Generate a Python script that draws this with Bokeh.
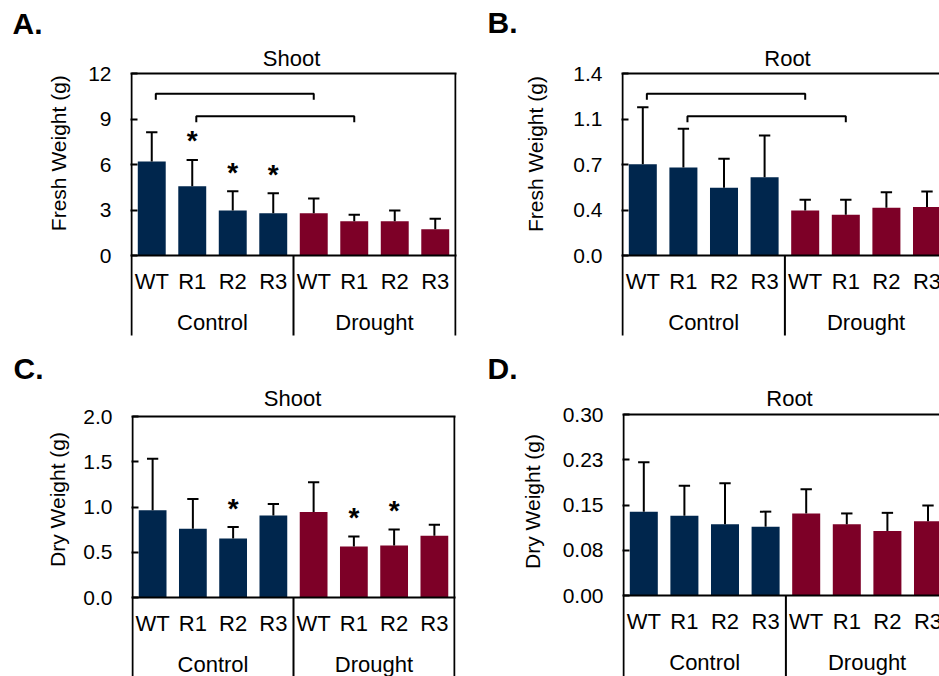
import numpy as np
from bokeh.plotting import figure
from bokeh.models import Range1d, FixedTicker
from bokeh.layouts import column, row
from bokeh.embed import file_html
from bokeh.resources import INLINE
from bokeh.core.properties import value

# ---------------- data ----------------
genotypes = ["WT", "R1", "R2", "R3"]
conditions = ["Control", "Drought"]
bar_colors = ["#00264d", "#7d0027"]

# A: shoot fresh weight
a_mean = [6.20, 4.57, 2.97, 2.79, 2.79, 2.26, 2.26, 1.73]
a_err = [1.93, 1.73, 1.27, 1.31, 0.97, 0.42, 0.71, 0.69]
a_sig = [False, True, True, True, False, False, False, False]
a_ticks = [0, 3, 6, 9, 12]
a_tick_labels = ["0", "3", "6", "9", "12"]
a_brackets = [(0, 4, 10.66), (1, 5, 9.18)]

# B: root fresh weight
b_mean = [0.702, 0.677, 0.521, 0.602, 0.346, 0.313, 0.367, 0.374]
b_err = [0.438, 0.298, 0.223, 0.321, 0.082, 0.115, 0.120, 0.118]
b_sig = [False] * 8
b_ticks = [0, 0.35, 0.7, 1.05, 1.4]
b_tick_labels = ["0.0", "0.4", "0.7", "1.1", "1.4"]
b_brackets = [(0, 4, 1.244), (1, 5, 1.072)]

# C: shoot dry weight
c_mean = [0.963, 0.759, 0.652, 0.907, 0.944, 0.563, 0.574, 0.681]
c_err = [0.570, 0.330, 0.126, 0.126, 0.330, 0.111, 0.178, 0.123]
c_sig = [False, False, True, False, False, True, True, False]
c_ticks = [0, 0.5, 1.0, 1.5, 2.0]
c_tick_labels = ["0.0", "0.5", "1.0", "1.5", "2.0"]
c_brackets = []

# D: root dry weight
d_mean = [0.139, 0.132, 0.118, 0.114, 0.136, 0.118, 0.107, 0.123]
d_err = [0.082, 0.050, 0.068, 0.025, 0.040, 0.018, 0.030, 0.026]
d_sig = [False] * 8
d_ticks = [0, 0.075, 0.15, 0.225, 0.3]
d_tick_labels = ["0.00", "0.08", "0.15", "0.23", "0.30"]
d_brackets = []

FONT = "Liberation Sans"
LW = 80  # width of the side strip holding the panel letter and y title


def base_fig(**kw):
    p = figure(output_backend="svg", toolbar_location=None, tools="", **kw)
    p.grid.visible = False
    p.outline_line_color = None
    p.background_fill_color = "white"
    p.border_fill_color = "white"
    return p


def panel(mean, err, sig, ticks, tick_labels, brackets, ylabel, title, letter,
          fig_w, fig_h, left, right, top, zero, bottom, cat_w,
          ylab_pos, title_pos, letter_pos):
    ymax = ticks[-1]
    k = (zero - top) / ymax  # px per data unit

    def X(px):
        return -0.5 + (px - left) / cat_w

    def Y(px):
        return (zero - px) / k

    # ---- side strip: panel letter + y-axis title ----
    pl = base_fig(width=LW, height=fig_h, x_range=Range1d(0, LW), y_range=Range1d(fig_h, 0),
                  x_axis_location=None, y_axis_location=None, min_border=0)
    pl.text(x=[letter_pos[0]], y=[letter_pos[1]], text=[letter], text_align="left",
            text_baseline="middle", text_font=value(FONT), text_font_style="bold",
            text_font_size="30px", text_color="black")
    pl.text(x=[ylab_pos[0]], y=[ylab_pos[1]], text=[ylabel], angle=np.pi / 2,
            text_align="center", text_baseline="middle", text_font=value(FONT),
            text_font_size="21px", text_color="black")

    # ---- main chart ----
    frame_right = min(right + 1, fig_w)
    x_range = Range1d(X(left - 1), X(frame_right))
    y_range = Range1d(Y(bottom), Y(0))
    p = base_fig(width=fig_w - LW, height=fig_h, x_range=x_range, y_range=y_range,
                 x_axis_location=None, min_border_left=left - 1 - LW,
                 min_border_right=fig_w - frame_right,
                 min_border_top=0, min_border_bottom=fig_h - bottom)

    ax = p.yaxis[0]
    ax.ticker = FixedTicker(ticks=ticks)
    ax.major_label_overrides = {t: l for t, l in zip(ticks, tick_labels)}
    ax.minor_tick_line_color = None
    ax.major_tick_in = 7
    ax.major_tick_out = 0
    ax.major_tick_line_width = 2
    ax.major_tick_line_color = "black"
    ax.axis_line_color = None
    ax.major_label_text_font = FONT
    ax.major_label_text_font_size = "21px"
    ax.major_label_text_color = "black"
    ax.major_label_standoff = 19

    n = len(mean)
    xs = np.arange(n)
    mean_a = np.array(mean)
    tops = mean_a + np.array(err)
    colors = [bar_colors[i // len(genotypes)] for i in range(n)]

    p.vbar(x=xs, top=mean_a, bottom=0, width=0.69, fill_color=colors, line_color=None)
    # error bars (upper only)
    p.segment(x0=xs, y0=mean_a, x1=xs, y1=tops, line_color="black", line_width=2)
    p.segment(x0=xs - 0.14, y0=tops, x1=xs + 0.14, y1=tops, line_color="black", line_width=2)

    # frame / divider lines
    xl, xr = -0.5, n - 0.5
    xdiv = len(genotypes) - 0.5
    ybot = Y(bottom + 2)
    xend = X(frame_right + 5)
    p.segment(x0=[xl, xl, xl, xr, xdiv], y0=[ymax, 0, ybot, ybot, ybot],
              x1=[xend, xend, xl, xr, xdiv], y1=[ymax, 0, ymax, ymax, 0],
              line_color="black", line_width=2)

    # significance brackets
    drop = 6 / k
    bx, by = [], []
    for i, j, h in brackets:
        bx.append([i + 0.1, i + 0.1, j, j])
        by.append([h - drop, h, h, h - drop])
    if bx:
        p.multi_line(xs=bx, ys=by, line_color="black", line_width=2)

    # significance asterisks
    sx = [xs[i] for i in range(n) if sig[i]]
    sy = [tops[i] + 19 / k for i in range(n) if sig[i]]
    if sx:
        p.text(x=sx, y=sy, text=["*"] * len(sx), text_align="center",
               text_baseline="middle", text_font=value(FONT),
               text_font_style="bold", text_font_size="28px", text_color="black")

    # category labels
    p.text(x=xs, y=[Y(zero + 26)] * n, text=genotypes * len(conditions),
           text_align="center", text_baseline="middle", text_font=value(FONT),
           text_font_size="22px", text_color="black")
    gx = [len(genotypes) * g + (len(genotypes) - 1) / 2 for g in range(len(conditions))]
    p.text(x=gx, y=[Y(zero + 67)] * len(gx), text=conditions,
           text_align="center", text_baseline="middle", text_font=value(FONT),
           text_font_size="22px", text_color="black")

    # panel title
    p.text(x=[X(title_pos[0])], y=[Y(title_pos[1])], text=[title],
           text_align="center", text_baseline="middle", text_font=value(FONT),
           text_font_size="22px", text_color="black")
    return row(pl, p)


pA = panel(a_mean, a_err, a_sig, a_ticks, a_tick_labels, a_brackets,
           "Fresh Weight (g)", "Shoot", "A.",
           fig_w=470, fig_h=338, left=131, right=455, top=73, zero=255, bottom=335,
           cat_w=40.5, ylab_pos=(58, 154), title_pos=(291, 58), letter_pos=(12, 23))
pB = panel(b_mean, b_err, b_sig, b_ticks, b_tick_labels, b_brackets,
           "Fresh Weight (g)", "Root", "B.",
           fig_w=469, fig_h=338, left=152, right=477, top=73, zero=255, bottom=335,
           cat_w=40.6, ylab_pos=(65, 155), title_pos=(317, 58), letter_pos=(17, 22))
pC = panel(c_mean, c_err, c_sig, c_ticks, c_tick_labels, c_brackets,
           "Dry Weight (g)", "Shoot", "C.",
           fig_w=470, fig_h=338, left=132, right=454, top=78, zero=259, bottom=338,
           cat_w=40.25, ylab_pos=(57, 161), title_pos=(292, 60), letter_pos=(13, 30))
pD = panel(d_mean, d_err, d_sig, d_ticks, d_tick_labels, d_brackets,
           "Dry Weight (g)", "Root", "D.",
           fig_w=469, fig_h=338, left=153, right=478, top=76, zero=257, bottom=338,
           cat_w=40.6, ylab_pos=(62, 163), title_pos=(319, 60), letter_pos=(17, 30))

layout = column(row(pA, pB), row(pC, pD))
open("out.html", "w").write(file_html(layout, INLINE))
